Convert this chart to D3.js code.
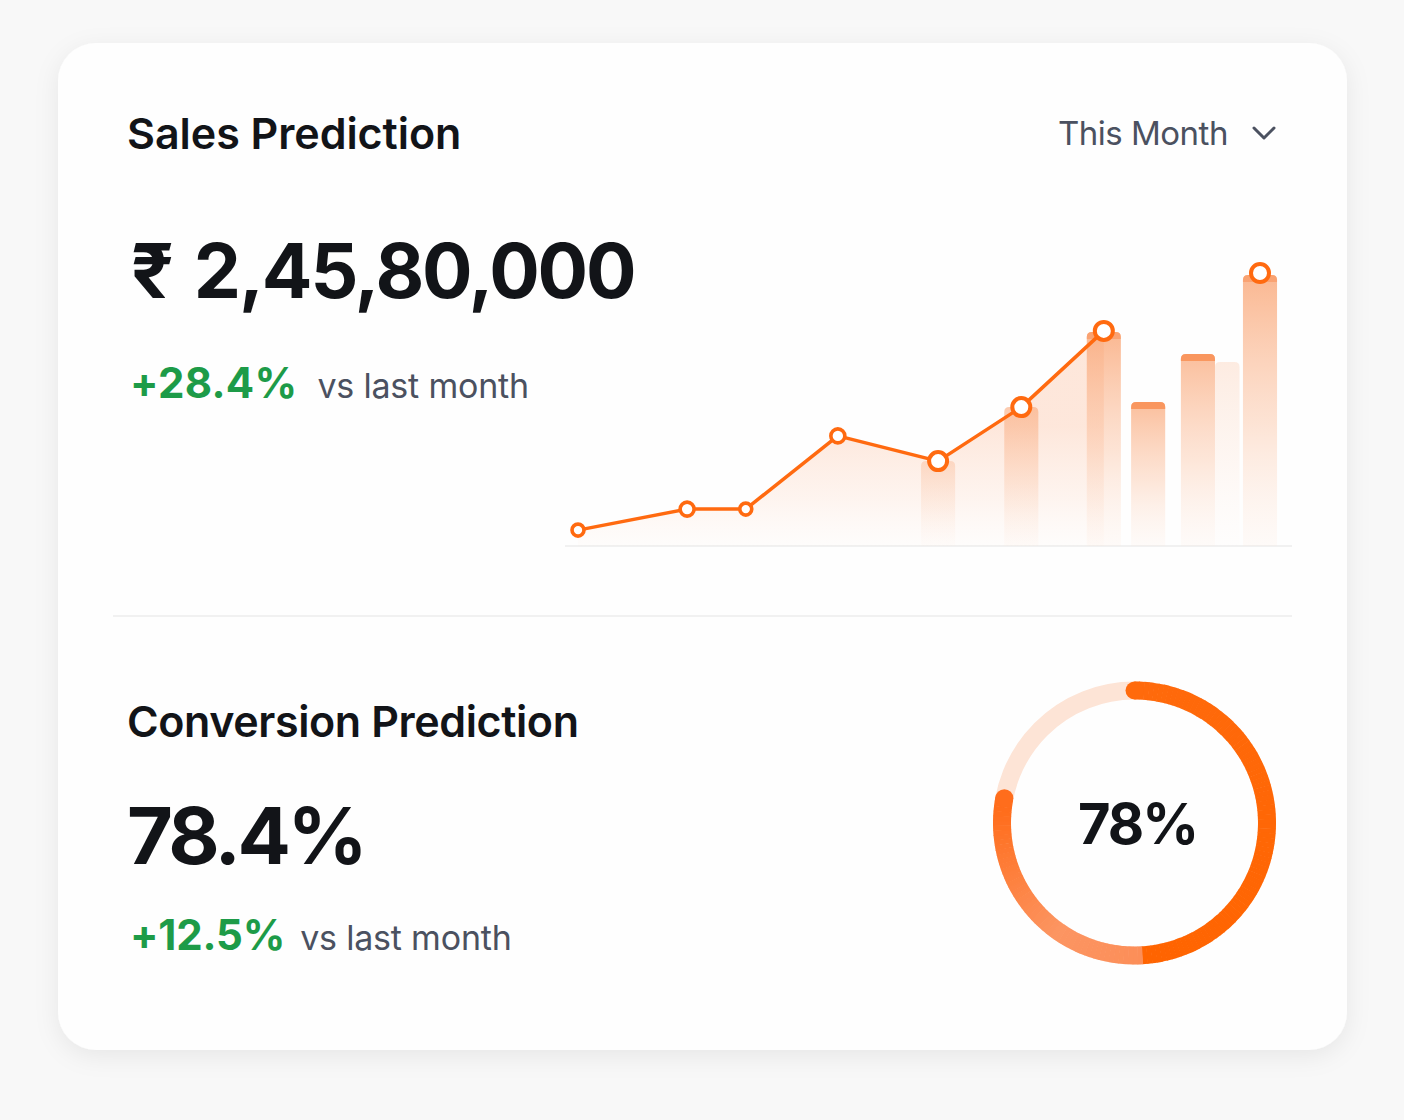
<!DOCTYPE html>
<html>
<head>
<meta charset="utf-8">
<script src="https://cdn.jsdelivr.net/npm/d3@7/dist/d3.min.js"></script>
<style>
  html, body { margin: 0; padding: 0; background: #f8f8f8; }
  svg { display: block; }
  text { font-family: Inter, "Noto Sans", "DejaVu Sans", sans-serif; }
</style>
</head>
<body>
<svg id="chart" width="1404" height="1120"></svg>
<script>
// ---------- data ----------
const salesTitle = "Sales Prediction";
const periodLabel = "This Month";
const currencySymbol = "₹";
const salesValue = "2,45,80,000";
const salesChange = "+28.4%";
const conversionTitle = "Conversion Prediction";
const conversionValue = "78.4%";
const conversionChange = "+12.5%";
const compareLabel = "vs last month";
const gaugePercent = 78;

// trend line (x = position through period, y = relative sales index)
const lineX = [0, 16.0, 24.6, 38.1, 52.8, 65.0, 77.1];
const lineY = [5.3, 12.3, 12.3, 36.7, 28.3, 46.3, 71.7];
const pointSize = ["s", "m", "s", "m", "l", "l", "l"];
// forecast peak marker
const peakX = [100];
const peakY = [91];

// predicted bars
const barX = [52.8, 65.0, 77.1, 83.6, 90.9, 95.2, 100];
const barY = [28.3, 46.3, 71.3, 48, 64, 61.3, 90.3];
const barTier = ["faint", "mid", "strong", "capped", "capped", "ghost", "strong"];

// ---------- drawing ----------
const svg = d3.select("#chart");
const defs = svg.append("defs");

const shadow = defs.append("filter").attr("id", "cardShadow")
  .attr("x", "-10%").attr("y", "-10%").attr("width", "120%").attr("height", "120%");
shadow.append("feDropShadow").attr("dx", 0).attr("dy", 6).attr("stdDeviation", 12)
  .attr("flood-color", "#000").attr("flood-opacity", 0.07);

svg.append("rect").attr("x", 58).attr("y", 43).attr("width", 1289).attr("height", 1007)
  .attr("rx", 38).attr("fill", "#fefefe").attr("filter", "url(#cardShadow)");

// texts
const ink = "#121418", grey = "#4b5160", green = "#1d9b48";
svg.append("text").attr("x", 127).attr("y", 149).attr("font-size", 43).attr("font-weight", 600)
  .attr("fill", ink).attr("letter-spacing", -0.05).text(salesTitle);
svg.append("text").attr("x", 1058).attr("y", 145).attr("font-size", 33).attr("font-weight", 400)
  .attr("fill", grey).attr("letter-spacing", -0.5).text(periodLabel);
svg.append("path").attr("d", "M1254,128 L1264,138 L1274,128")
  .attr("fill", "none").attr("stroke", grey).attr("stroke-width", 3)
  .attr("stroke-linecap", "round").attr("stroke-linejoin", "round");

const big = svg.append("text").attr("x", 131).attr("y", 298).attr("font-size", 75).attr("font-weight", 700)
  .attr("fill", ink).attr("letter-spacing", -2.1);
big.append("tspan").text(currencySymbol);
big.append("tspan").attr("dx", 22).text(salesValue);
const ch1 = svg.append("text").attr("x", 130).attr("y", 398);
ch1.append("tspan").attr("font-size", 42).attr("font-weight", 700).attr("fill", green).attr("letter-spacing", 0.3).text(salesChange);
ch1.append("tspan").attr("dx", 20).attr("font-size", 34).attr("font-weight", 400).attr("fill", grey).attr("letter-spacing", -0.2).text(compareLabel);

svg.append("line").attr("x1", 113).attr("x2", 1292).attr("y1", 616).attr("y2", 616)
  .attr("stroke", "#ececec").attr("stroke-width", 1.5);

svg.append("text").attr("x", 127).attr("y", 737).attr("font-size", 43).attr("font-weight", 600)
  .attr("fill", ink).attr("letter-spacing", -0.4).text(conversionTitle);
svg.append("text").attr("x", 127).attr("y", 864).attr("font-size", 79).attr("font-weight", 700)
  .attr("fill", ink).attr("letter-spacing", -3.5).text(conversionValue);
const ch2 = svg.append("text").attr("x", 130).attr("y", 950);
ch2.append("tspan").attr("font-size", 42).attr("font-weight", 700).attr("fill", green).attr("letter-spacing", -0.2).text(conversionChange);
ch2.append("tspan").attr("dx", 15).attr("font-size", 34).attr("font-weight", 400).attr("fill", grey).attr("letter-spacing", -0.2).text(compareLabel);

// ---------- sales chart ----------
const x = d3.scaleLinear().domain([0, 100]).range([578, 1260]);
const y = d3.scaleLinear().domain([0, 100]).range([546, 246]);
const base = y(0);

svg.append("line").attr("x1", 565).attr("x2", 1292).attr("y1", base).attr("y2", base)
  .attr("stroke", "#f1f1f1").attr("stroke-width", 2);

const pts = lineX.map((v, i) => ({ x: v, y: lineY[i], s: pointSize[i] }));

const areaGrad = defs.append("linearGradient").attr("id", "areaGrad")
  .attr("gradientUnits", "userSpaceOnUse").attr("x1", 0).attr("x2", 0).attr("y1", y(40)).attr("y2", base);
areaGrad.append("stop").attr("offset", 0).attr("stop-color", "#fb8a4e").attr("stop-opacity", 0.2);
areaGrad.append("stop").attr("offset", 0.6).attr("stop-color", "#fb9a66").attr("stop-opacity", 0.1);
areaGrad.append("stop").attr("offset", 1).attr("stop-color", "#fdc3a3").attr("stop-opacity", 0.03);

svg.append("path").datum(pts)
  .attr("d", d3.area().x(d => x(d.x)).y0(base).y1(d => y(d.y)))
  .attr("fill", "url(#areaGrad)");

const tierTop = { faint: 0.3, mid: 0.55, strong: 0.75, capped: 0.68, ghost: 0.2 };
Object.entries(tierTop).forEach(([k, op]) => {
  const g = defs.append("linearGradient").attr("id", "bar-" + k).attr("x1", 0).attr("x2", 0).attr("y1", 0).attr("y2", 1);
  g.append("stop").attr("offset", 0).attr("stop-color", "#f9a06d").attr("stop-opacity", op);
  g.append("stop").attr("offset", 0.55).attr("stop-color", "#fbbd99").attr("stop-opacity", op * 0.55);
  g.append("stop").attr("offset", 1).attr("stop-color", "#fde2d2").attr("stop-opacity", op * 0.18);
});

const bars = barX.map((v, i) => ({ x: v, y: barY[i], t: barTier[i] }));
const bw = d => (d.t === "ghost" ? x(3.6) - x(0) : x(5) - x(0));
function topRounded(x0, y0, w, h, r) {
  return `M${x0},${y0 + h} L${x0},${y0 + r} Q${x0},${y0} ${x0 + r},${y0} L${x0 + w - r},${y0} Q${x0 + w},${y0} ${x0 + w},${y0 + r} L${x0 + w},${y0 + h} Z`;
}
svg.append("g").selectAll("path").data(bars).join("path")
  .attr("d", d => topRounded(x(d.x) - bw(d) / 2, y(d.y), bw(d), base - y(d.y), 5))
  .attr("fill", d => `url(#bar-${d.t})`);
svg.append("g").selectAll("path").data(bars.filter(d => d.t === "capped" || d.t === "strong")).join("path")
  .attr("d", d => topRounded(x(d.x) - bw(d) / 2, y(d.y), bw(d), 7, 5))
  .attr("fill", "#f8884a").attr("opacity", d => d.t === "capped" ? 0.75 : 0.45);

svg.append("path").datum(pts)
  .attr("d", d3.line().x(d => x(d.x)).y(d => y(d.y)))
  .attr("fill", "none").attr("stroke", "#ff6a10").attr("stroke-width", 3.5)
  .attr("stroke-linejoin", "round");

const rad = { s: 6, m: 7, l: 9 };
const markers = pts.concat(peakX.map((v, i) => ({ x: v, y: peakY[i], s: "l" })));
svg.append("g").selectAll("circle").data(markers).join("circle")
  .attr("cx", d => x(d.x)).attr("cy", d => y(d.y)).attr("r", d => rad[d.s])
  .attr("fill", "#fff").attr("stroke", "#ff6a10").attr("stroke-width", d => d.s === "l" ? 4 : 3.6);

// ---------- gauge ----------
const cx = 1134.5, cy = 823, r = 132.5, sw = 18;
const g = svg.append("g").attr("transform", `translate(${cx},${cy})`);
g.append("circle").attr("r", r).attr("fill", "none").attr("stroke", "#fde4d6").attr("stroke-width", sw);

const angle = d3.scaleLinear().domain([0, 100]).range([0, 2 * Math.PI]);
const endA = angle(gaugePercent);
const colorAt = deg => {
  if (deg < 176) return d3.interpolateRgb("#ff6a0c", "#ff6400")(deg / 176);
  if (deg < 215) return d3.interpolateRgb("#fc8e58", "#fc9562")((deg - 176) / 39);
  return d3.interpolateRgb("#fc9562", "#ff6d1c")(Math.min(1, (deg - 215) / 60));
};
const N = 140;
const segArc = d3.arc().innerRadius(r - sw / 2).outerRadius(r + sw / 2);
for (let i = 0; i < N; i++) {
  const a0 = endA * i / N, a1 = endA * (i + 1) / N + 0.004;
  const mid = (a0 + a1) / 2 * 180 / Math.PI;
  g.append("path").attr("d", segArc({ startAngle: a0, endAngle: Math.min(a1, endA) }))
    .attr("fill", colorAt(mid));
}
[0, endA].forEach((a, i) => {
  g.append("circle").attr("cx", r * Math.sin(a)).attr("cy", -r * Math.cos(a)).attr("r", sw / 2)
    .attr("fill", colorAt(i === 0 ? 0 : endA * 180 / Math.PI));
});
g.append("text").attr("x", 3).attr("y", 21).attr("text-anchor", "middle")
  .attr("font-size", 56).attr("font-weight", 700).attr("fill", ink).attr("letter-spacing", -2)
  .text(gaugePercent + "%");
</script>
</body>
</html>
